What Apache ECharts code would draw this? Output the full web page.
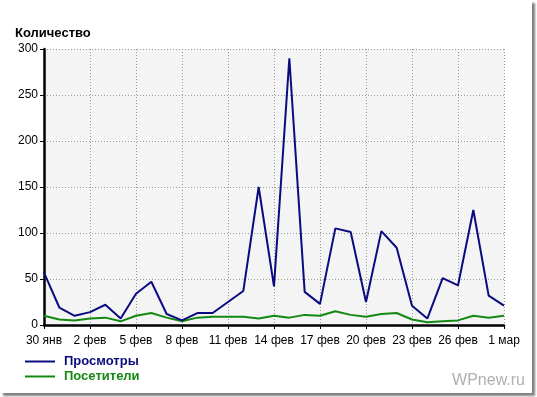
<!DOCTYPE html>
<html>
<head>
<meta charset="utf-8">
<script src="https://cdn.jsdelivr.net/npm/echarts@6/dist/echarts.min.js"></script>
<style>
    html, body { margin: 0; padding: 0; background: #fff; }
    #chart {
        position: absolute; left: 0; top: 0;
        width: 532px; height: 393px;
        background: #fff;
        box-shadow: 3px 3px 2px #808080;
    }
</style>
</head>
<body>
<div id="chart"></div>
<script>
    // даты: 30 янв .. 1 мар
    const days = ['30 янв', '31 янв', '1 фев', '2 фев', '3 фев', '4 фев', '5 фев', '6 фев', '7 фев', '8 фев',
        '9 фев', '10 фев', '11 фев', '12 фев', '13 фев', '14 фев', '15 фев', '16 фев', '17 фев', '18 фев',
        '19 фев', '20 фев', '21 фев', '22 фев', '23 фев', '24 фев', '25 фев', '26 фев', '27 фев', '28 фев', '1 мар'];
    const views = [57, 19, 10, 14, 22, 7, 34, 47, 12, 5, 13, 13, 25, 37, 150, 42, 290, 36, 23, 105,
        101, 25, 102, 84, 21, 7, 51, 43, 125, 32, 21];
    const visitors = [10, 6, 5, 7, 8, 4, 10, 13, 8, 4, 8, 9, 9, 9, 7, 10, 8, 11, 10, 15,
        11, 9, 12, 13, 6, 3, 4, 5, 10, 8, 10];
    const yTicks = [0, 50, 100, 150, 200, 250, 300];

    const seriesNames = ['Просмотры', 'Посетители'];
    const seriesColors = ['#0b0b80', '#128a12'];

    let myChart = echarts.init(document.getElementById('chart'));

    let option = {
        animation: false,
        textStyle: { fontFamily: 'Liberation Sans' },
        title: {
            text: 'Количество',
            left: 10,
            top: 22,
            textStyle: { fontSize: 13, fontWeight: 'bold', color: '#000', fontFamily: 'Liberation Sans' }
        },
        grid: { left: 44, right: 28, top: 49, bottom: 68, show: true, backgroundColor: '#f4f4f4', borderWidth: 0 },
        legend: {
            orient: 'vertical',
            left: 20,
            top: 350,
            itemWidth: 30,
            itemHeight: 2,
            itemGap: 2,
            icon: 'rect',
            selectedMode: false,
            textStyle: { fontSize: 13, fontWeight: 'bold', padding: [0, 0, 0, 4] },
            data: seriesNames.map((n, i) => ({ name: n, itemStyle: { color: seriesColors[i] }, textStyle: { color: seriesColors[i] } }))
        },
        xAxis: {
            type: 'category',
            data: days,
            boundaryGap: false,
            axisLine: { lineStyle: { color: '#000', width: 2.5 } },
            axisTick: { show: true, length: 4, interval: 2, lineStyle: { color: '#000' } },
            axisLabel: { interval: 2, margin: 10, fontSize: 12, color: '#000' },
            splitLine: {
                show: true,
                interval: 2,
                lineStyle: { color: '#999', type: [1, 2], width: 1 }
            }
        },
        yAxis: {
            type: 'value',
            min: yTicks[0],
            max: yTicks[yTicks.length - 1],
            interval: 50,
            axisLine: { show: true, lineStyle: { color: '#000', width: 2.5 } },
            axisTick: { show: true, length: 4, lineStyle: { color: '#000' } },
            axisLabel: { margin: 6, fontSize: 12, color: '#000' },
            splitLine: { lineStyle: { color: '#999', type: [1, 2], width: 1 } }
        },
        graphic: [{
            type: 'text',
            right: 7,
            top: 373,
            style: { text: 'WPnew.ru', fontSize: 16, fontFamily: 'Liberation Sans', fill: '#b0b0b0' }
        }],
        series: [
            {
                name: seriesNames[0],
                type: 'line',
                data: views,
                symbol: 'none',
                z: 3,
                lineStyle: { color: seriesColors[0], width: 2 },
                itemStyle: { color: seriesColors[0] }
            },
            {
                name: seriesNames[1],
                type: 'line',
                data: visitors,
                symbol: 'none',
                z: 2,
                lineStyle: { color: seriesColors[1], width: 2 },
                itemStyle: { color: seriesColors[1] }
            }
        ]
    };

    myChart.setOption(option);
</script>
</body>
</html>
